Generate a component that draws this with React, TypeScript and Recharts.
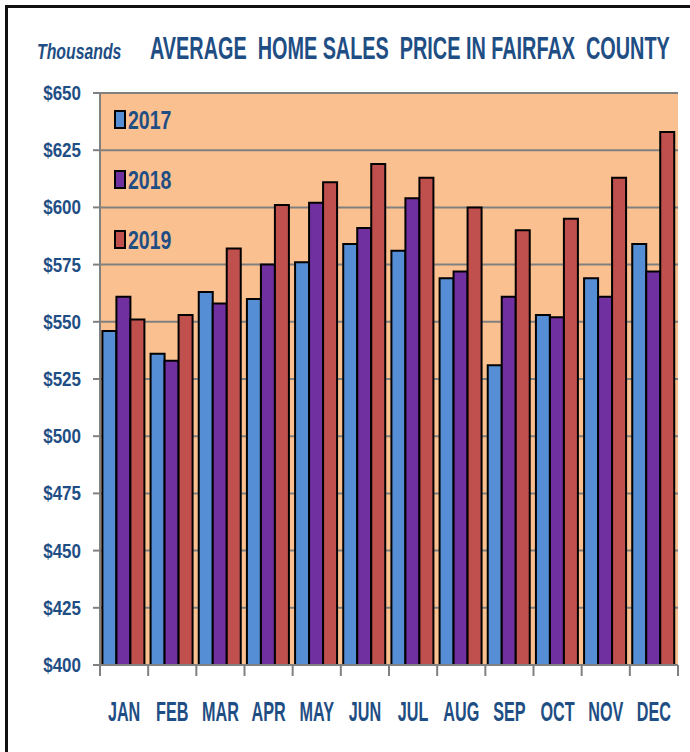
import React from 'react'

import { BarChart, Bar, XAxis, YAxis, CartesianGrid, Legend } from 'recharts'

const months = ['JAN', 'FEB', 'MAR', 'APR', 'MAY', 'JUN', 'JUL', 'AUG', 'SEP', 'OCT', 'NOV', 'DEC']
const sales2017 = [546, 536, 563, 560, 576, 584, 581, 569, 531, 553, 569, 584]
const sales2018 = [561, 533, 558, 575, 602, 591, 604, 572, 561, 552, 561, 572]
const sales2019 = [551, 553, 582, 601, 611, 619, 613, 600, 590, 595, 613, 633]
const priceTicks = [400, 425, 450, 475, 500, 525, 550, 575, 600, 625, 650]

const data = months.map((month, i) => ({
  month,
  y2017: sales2017[i],
  y2018: sales2018[i],
  y2019: sales2019[i]
}))

const navy = '#1F4E84'
const font = '"Liberation Sans", Arial, sans-serif'

const PriceTick = ({ x, y, payload }: any) => (
  <text
    transform={`translate(${x},${y + 7}) scale(0.85,1)`}
    textAnchor="end"
    fontFamily={font}
    fontWeight="bold"
    fontSize={20}
    fill={navy}
  >
    ${payload.value}
  </text>
)

const MonthTick = ({ x, y, payload, index }: any) => {
  const half = payload.offset || 24
  return (
    <g>
      <line x1={x - half} x2={x - half} y1={y} y2={y + 11} stroke="#808080" strokeWidth={2} />
      {index === months.length - 1 && (
        <line x1={x + half} x2={x + half} y1={y} y2={y + 11} stroke="#808080" strokeWidth={2} />
      )}
      <text
        transform={`translate(${x},${y + 56}) scale(0.6,1)`}
        textAnchor="middle"
        fontFamily={font}
        fontWeight="bold"
        fontSize={27}
        fill={navy}
      >
        {payload.value}
      </text>
    </g>
  )
}

const LegendBox = ({ payload }: any) => (
  <div style={{ fontFamily: font, fontWeight: 'bold', fontSize: 26, color: navy }}>
    {(payload || []).map((item: any) => (
      <div key={item.value} style={{ position: 'relative', height: 60 }}>
        <div
          style={{
            position: 'absolute',
            left: 1,
            top: 2,
            width: 8,
            height: 15,
            background: item.color,
            border: '2px solid #000'
          }}
        />
        <div
          style={{
            position: 'absolute',
            left: 15,
            top: -3,
            lineHeight: '30px',
            whiteSpace: 'nowrap',
            transform: 'scaleX(0.75)',
            transformOrigin: 'left center'
          }}
        >
          {item.value}
        </div>
      </div>
    ))}
  </div>
)

const App = () => {
  return (
    <div style={{ position: 'absolute', left: 0, top: 0, width: 690, height: 752, background: '#fff', overflow: 'hidden' }}>
      <div style={{ position: 'absolute', left: 5, top: 5, width: 720, height: 780, borderLeft: '3px solid #111', borderTop: '3px solid #111' }} />
      <svg width={690} height={90} style={{ position: 'absolute', left: 0, top: 0 }}>
        <text
          transform="translate(37,59) scale(0.72,1)"
          fontFamily={font}
          fontStyle="italic"
          fontWeight="bold"
          fontSize={22}
          fill={navy}
        >
          Thousands
        </text>
        <text
          transform="translate(150,59) scale(0.64,1)"
          fontFamily={font}
          fontWeight="bold"
          fontSize={31}
          fill={navy}
          style={{ whiteSpace: 'pre' }}
        >
          {'AVERAGE  HOME SALES  PRICE IN FAIRFAX  COUNTY'}
        </text>
      </svg>
      <div style={{ position: 'absolute', left: 0, top: 0 }}>
        <BarChart
          width={690}
          height={752}
          data={data}
          barCategoryGap="5%"
          barGap={0}
          margin={{ top: 93, right: 12, left: 0, bottom: 0 }}
        >
          <CartesianGrid vertical={false} fill="#FAC090" stroke="#808080" strokeWidth={2} />
          <XAxis
            dataKey="month"
            interval={0}
            tickSize={0}
            tickMargin={0}
            tickLine={false}
            tick={<MonthTick />}
            axisLine={{ stroke: '#808080', strokeWidth: 2 }}
            height={87}
          />
          <XAxis
            xAxisId="top"
            dataKey="month"
            orientation="top"
            height={0}
            tick={false}
            tickLine={false}
            axisLine={{ stroke: '#111', strokeWidth: 2 }}
          />
          <YAxis
            domain={[400, 650]}
            ticks={priceTicks}
            allowDataOverflow
            width={100}
            tickSize={7}
            tickMargin={12}
            tickLine={{ stroke: '#808080', strokeWidth: 2 }}
            axisLine={{ stroke: '#808080', strokeWidth: 2 }}
            tick={<PriceTick />}
          />
          <YAxis
            yAxisId="right"
            orientation="right"
            domain={[400, 650]}
            width={0}
            tick={false}
            tickLine={false}
            axisLine={{ stroke: '#111', strokeWidth: 3 }}
          />
          <Legend
            layout="vertical"
            align="center"
            verticalAlign="middle"
            content={<LegendBox />}
            wrapperStyle={{ position: 'absolute', left: 113, top: 108, width: 90, height: 150 }}
          />
          <Bar dataKey="y2017" name="2017" fill="#558ED5" stroke="#000" strokeWidth={2} isAnimationActive={false} />
          <Bar dataKey="y2018" name="2018" fill="#7030A0" stroke="#000" strokeWidth={2} isAnimationActive={false} />
          <Bar dataKey="y2019" name="2019" fill="#C0504D" stroke="#000" strokeWidth={2} isAnimationActive={false} />
        </BarChart>
      </div>
    </div>
  )
}

export default App
